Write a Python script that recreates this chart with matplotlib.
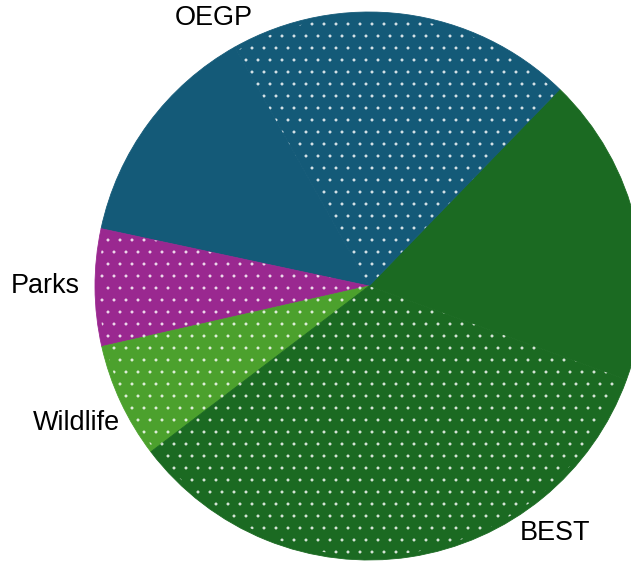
import matplotlib
matplotlib.use('Agg')
import matplotlib.pyplot as plt
import numpy as np

plt.rcParams['font.family'] = ['Liberation Sans', 'DejaVu Sans']
plt.rcParams['hatch.linewidth'] = 0.5

# Wedges, counter-clockwise starting at the solid BEST part
segments = ['BEST', 'OEGP', 'OEGP', 'Parks', 'Wildlife', 'BEST']
shares = [18.3, 20.4, 13.5, 6.9, 6.8, 34.1]
colors = ['#1b6a22', '#145a78', '#145a78', '#9a2890', '#4ca12d', '#1b6a22']
dotted = [False, True, False, True, True, True]
start_angle = -20

labels = ['OEGP', 'Parks', 'Wildlife', 'BEST']
label_angles = [120, 180, 205, -53]
label_dist = [1.13, 1.18, 1.18, 1.13]

W, H, DPI = 631, 564, 72
fig = plt.figure(figsize=(W / DPI, H / DPI), dpi=DPI)
ax = fig.add_axes([0, 0, 1, 1])

# solid base
base, _ = ax.pie(shares, colors=colors, startangle=start_angle,
                 counterclock=True, radius=1.0)
for w, c in zip(base, colors):
    w.set_edgecolor(c)
    w.set_linewidth(0.8)

# dot overlay
over, _ = ax.pie(shares, startangle=start_angle, counterclock=True, radius=0.985)
for w, d in zip(over, dotted):
    w.set_facecolor('none')
    w.set_edgecolor((1, 1, 1, 0.8))
    w.set_linewidth(0)
    if d:
        w.set_hatch('.')

for lab, ang, dist in zip(labels, label_angles, label_dist):
    a = np.deg2rad(ang)
    ax.text(dist * np.cos(a), dist * np.sin(a), lab, fontsize=27,
            ha='center', va='center', color='black')

# pixel mapping: centre (369, 286), radius 274 px
cx, cy, r = 369, 286, 274
ax.set_aspect('auto')
ax.set_xlim(-cx / r, (W - cx) / r)
ax.set_ylim(-(H - cy) / r, cy / r)
ax.axis('off')

fig.savefig('out.png', dpi=DPI)
